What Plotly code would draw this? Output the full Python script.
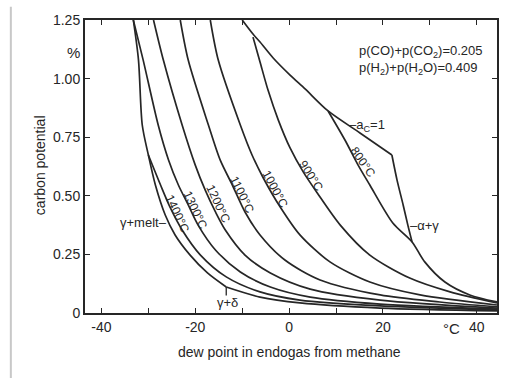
import plotly.graph_objects as go

# ---- data: dew point (°C) vs carbon potential (%) ----
dp_melt = [-33.2, -32.1, -31.3, -30.0, -28.5, -26.4, -24.3, -21.1, -17.4, -13.4]
c_melt = [1.25, 1.079, 0.802, 0.674, 0.546, 0.418, 0.333, 0.247, 0.171, 0.111]

dp_delta = [-13.4, -6.2, 2.3, 19.4, 44.3]
c_delta = [0.111, 0.068, 0.043, 0.021, 0.009]

dp_1400 = [-30.0, -27.4, -25.3, -22.8, -18.9, -13.4, -6.2, 2.3, 19.4, 44.3]
c_1400 = [0.674, 0.546, 0.448, 0.354, 0.247, 0.154, 0.090, 0.055, 0.030, 0.013]

dp_1300 = [-33.2, -31.1, -27.9, -25.7, -23.6, -21.5, -19.4, -15.7, -10.4, -4.0, 4.5, 19.4, 44.3]
c_1300 = [1.25, 1.079, 0.802, 0.653, 0.546, 0.461, 0.375, 0.269, 0.175, 0.111, 0.068, 0.038, 0.017]

dp_1200 = [-28.9, -26.8, -22.8, -20.0, -17.9, -15.7, -13.6, -9.4, -4.0, 4.5, 19.4, 44.3]
c_1200 = [1.25, 1.079, 0.802, 0.631, 0.525, 0.431, 0.354, 0.247, 0.171, 0.102, 0.055, 0.021]

dp_1100 = [-23.2, -21.5, -17.2, -14.7, -12.1, -9.4, -6.2, -0.9, 6.6, 19.4, 32.1, 44.3]
c_1100 = [1.25, 1.079, 0.802, 0.653, 0.546, 0.431, 0.333, 0.226, 0.141, 0.077, 0.047, 0.026]

dp_1000 = [-16.8, -15.1, -10.4, -7.9, -5.5, -1.9, 2.3, 8.7, 17.2, 27.9, 44.3]
c_1000 = [1.25, 1.079, 0.802, 0.674, 0.576, 0.452, 0.333, 0.218, 0.132, 0.077, 0.034]

dp_900 = [-7.7, -6.2, -4.5, -2.3, 0.2, 3.0, 6.0, 10.9, 17.2, 25.7, 34.3, 44.3]
c_900 = [1.177, 1.071, 0.951, 0.823, 0.704, 0.602, 0.512, 0.375, 0.247, 0.149, 0.090, 0.043]

dp_800 = [8.3, 11.9, 14.7, 17.2, 22.1, 26.2, 28.9, 33.2, 38.5, 44.3]
c_800 = [0.862, 0.738, 0.631, 0.546, 0.384, 0.303, 0.218, 0.132, 0.077, 0.047]

dp_alpha = [21.9, 23.0, 24.3, 25.3, 26.2]
c_alpha = [0.674, 0.567, 0.461, 0.375, 0.303]

dp_ac1 = [-10.0, -7.7, -6.2, -3.4, 0.2, 3.4, 8.3, 15.1, 21.9]
c_ac1 = [1.25, 1.19, 1.156, 1.088, 1.015, 0.956, 0.862, 0.768, 0.674]

x_ticks = [-40, -20, 0, 20, 40]
x_ticktext = ["-40", "-20", "0", "20", "40"]
x_minor_ticks = [-30, -10, 10, 30]
y_ticks = [0, 0.25, 0.5, 0.75, 1.0, 1.25]
y_ticktext = ["0", "0.25", "0.50", "0.75", "1.00", "1.25"]

iso_labels = ["800°C", "900°C", "1000°C", "1100°C", "1200°C", "1300°C", "1400°C"]
iso_label_dp = [15.7, 4.7, -3.0, -10.0, -15.1, -20.0, -23.8]
iso_label_c = [0.644, 0.584, 0.529, 0.503, 0.465, 0.439, 0.422]
iso_label_angle = [55, 57, 62, 64, 65, 65, 65]

FONT = "Liberation Sans Narrow, Liberation Sans, Arial, sans-serif"
INK = "#262626"

fig = go.Figure()
curves = [
    (dp_melt, c_melt), (dp_delta, c_delta), (dp_1400, c_1400), (dp_1300, c_1300),
    (dp_1200, c_1200), (dp_1100, c_1100), (dp_1000, c_1000), (dp_900, c_900),
    (dp_800, c_800), (dp_alpha, c_alpha), (dp_ac1, c_ac1),
]
for xs, ys in curves:
    fig.add_trace(go.Scatter(
        x=xs, y=ys, mode="lines",
        line=dict(color=INK, width=1.7, shape="spline", smoothing=0.8),
        showlegend=False, hoverinfo="skip"))

ann = []
for t, x, y, a in zip(iso_labels, iso_label_dp, iso_label_c, iso_label_angle):
    ann.append(dict(x=x, y=y, text=t, textangle=a, showarrow=False,
                    font=dict(family=FONT, size=12, color=INK)))

def txt(x, y, t, xanchor="center", size=14, xref="x", yref="y", yanchor="middle", **kw):
    d = dict(x=x, y=y, text=t, showarrow=False, xanchor=xanchor, yanchor=yanchor,
             xref=xref, yref=yref, font=dict(family=FONT, size=size, color=INK))
    d.update(kw)
    return d

ann += [
    txt(14.5, 1.08,
        "p(CO)+p(CO<sub>2</sub>)=0.205<br>p(H<sub>2</sub>)+p(H<sub>2</sub>O)=0.409",
        xanchor="left", size=13, align="left"),
    txt(12.3, 0.802, "–a<sub>C</sub>=1", xanchor="left", size=13),
    txt(25.3, 0.375, "–α+γ", xanchor="left", size=13),
    txt(-25.5, 0.388, "γ+melt–", xanchor="right", size=13),
    txt(-13.2, 0.045, "γ+δ", size=13),
    txt(34.5, 0, "°C", size=15, yshift=-15),
    txt(-0.028, 1.11, "%", size=15, xref="paper"),
    txt(-0.109, 0.505, "carbon potential", xref="paper", yref="paper", textangle=-90),
    txt(0.496, -0.133, "dew point in endogas from methane", xref="paper", yref="paper"),
]

fig.update_layout(
    width=519, height=378, autosize=False,
    margin=dict(l=85, r=22, t=20, b=65),
    paper_bgcolor="white", plot_bgcolor="white",
    annotations=ann,
    shapes=[
        dict(type="line", xref="x", yref="y", x0=-13.4, x1=-13.4, y0=0.111, y1=0.075,
             line=dict(color=INK, width=1.3)),
        dict(type="line", xref="paper", yref="paper", x0=-0.18, x1=-0.18, y0=1.045, y1=-0.23,
             line=dict(color="#c8c8c8", width=2)),
    ],
)
fig.update_xaxes(range=[-43.5, 44.3], tickvals=x_ticks, ticktext=x_ticktext,
                 ticks="inside", ticklen=5, tickwidth=1.3, tickcolor=INK,
                 minor=dict(tickvals=x_minor_ticks, ticks="inside", ticklen=5,
                            tickwidth=1.3, tickcolor=INK, showgrid=False),
                 showline=True, linecolor=INK, linewidth=2, mirror="ticks",
                 showgrid=False, zeroline=False,
                 tickfont=dict(family=FONT, size=14, color=INK))
fig.update_yaxes(range=[0, 1.25], tickvals=y_ticks, ticktext=y_ticktext,
                 ticks="inside", ticklen=5, tickwidth=1.3, tickcolor=INK,
                 showline=True, linecolor=INK, linewidth=2, mirror="ticks",
                 showgrid=False, zeroline=False,
                 tickfont=dict(family=FONT, size=14, color=INK))

fig.write_html("out.html")
